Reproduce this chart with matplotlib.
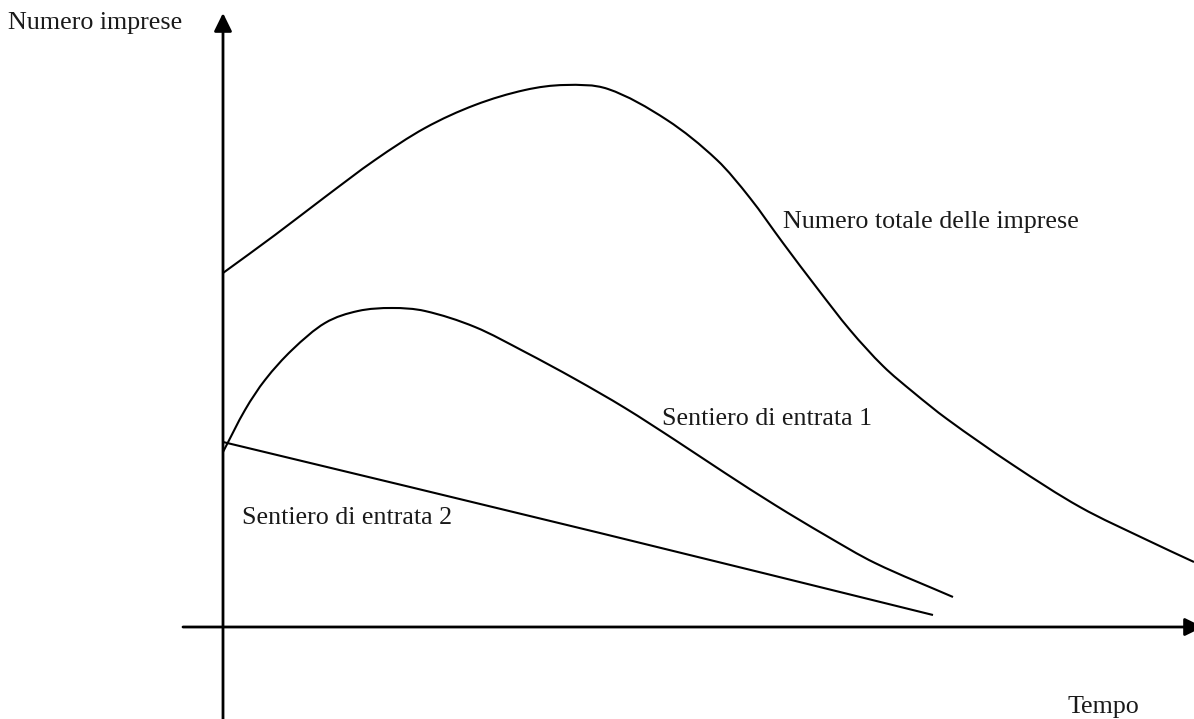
import matplotlib

matplotlib.use('Agg')
import matplotlib.pyplot as plt
from matplotlib.path import Path
from matplotlib.patches import PathPatch

# tempo (t) e numero imprese (N)
total_t = [0.0, 0.52, 1.02, 1.52, 2.02, 2.52, 3.02, 3.42, 3.85, 4.44, 4.94,
           5.27, 5.60, 5.94, 6.27, 6.60, 6.90, 7.24, 7.90, 8.57, 9.24, 9.71]
total_n = [3.54, 3.92, 4.30, 4.67, 4.99, 5.22, 5.37, 5.42, 5.38, 5.07, 4.67,
           4.29, 3.84, 3.39, 2.97, 2.61, 2.35, 2.08, 1.62, 1.20, 0.87, 0.65]

path1_t = [0.0, 0.22, 0.42, 0.69, 1.02, 1.35, 1.69, 2.02, 2.52, 3.02, 3.52,
           4.02, 4.52, 5.02, 5.52, 6.02, 6.52, 7.30]
path1_n = [1.75, 2.17, 2.47, 2.77, 3.04, 3.16, 3.19, 3.16, 3.00, 2.75, 2.48,
           2.19, 1.87, 1.54, 1.22, 0.92, 0.64, 0.30]

path2_t = [0.0, 3.77, 7.10]
path2_n = [1.85, 0.94, 0.12]

labels = ['Numero imprese', 'Numero totale delle imprese',
          'Sentiero di entrata 1', 'Sentiero di entrata 2', 'Tempo']


def smooth_path(xs, ys):
    # curva di Hermite (in x) che passa per i punti
    n = len(xs)
    m = []
    for i in range(n):
        a = max(i - 1, 0)
        b = min(i + 1, n - 1)
        m.append((ys[b] - ys[a]) / (xs[b] - xs[a]))
    verts = [(xs[0], ys[0])]
    codes = [Path.MOVETO]
    for i in range(n - 1):
        dx = xs[i + 1] - xs[i]
        verts += [(xs[i] + dx / 3, ys[i] + m[i] * dx / 3),
                  (xs[i + 1] - dx / 3, ys[i + 1] - m[i + 1] * dx / 3),
                  (xs[i + 1], ys[i + 1])]
        codes += [Path.CURVE4] * 3
    return Path(verts, codes)


plt.rcParams['font.family'] = ['Liberation Serif', 'DejaVu Serif']

fig = plt.figure(figsize=(11.94, 7.19), dpi=100)
ax = fig.add_axes([0, 0, 1, 1])
ax.set_xlim(-2.23, 9.71)
ax.set_ylim(-0.92, 6.27)
ax.axis('off')

# assi con frecce
arrow = dict(arrowstyle='-|>,head_length=0.55,head_width=0.27', color='black',
             lw=2, mutation_scale=20, shrinkA=0, shrinkB=0)
ax.annotate('', xy=(0, 6.14), xytext=(0, -0.95), arrowprops=arrow,
            annotation_clip=False)
ax.annotate('', xy=(9.80, 0), xytext=(-0.40, 0), arrowprops=arrow,
            annotation_clip=False)

for xs, ys in [(total_t, total_n), (path1_t, path1_n), (path2_t, path2_n)]:
    ax.add_patch(PathPatch(smooth_path(xs, ys), facecolor='none',
                           edgecolor='black', lw=1.5))

fs = 18.7
col = '#1a1a1a'
ax.text(-2.15, 5.98, labels[0], fontsize=fs, va='baseline', color=col)
ax.text(5.60, 3.99, labels[1], fontsize=fs, va='baseline', color=col)
ax.text(4.39, 2.02, labels[2], fontsize=fs, va='baseline', color=col)
ax.text(0.19, 1.03, labels[3], fontsize=fs, va='baseline', color=col)
ax.text(8.45, -0.86, labels[4], fontsize=fs, va='baseline', color=col)

fig.savefig('out.png', dpi=100)
plt.close(fig)
